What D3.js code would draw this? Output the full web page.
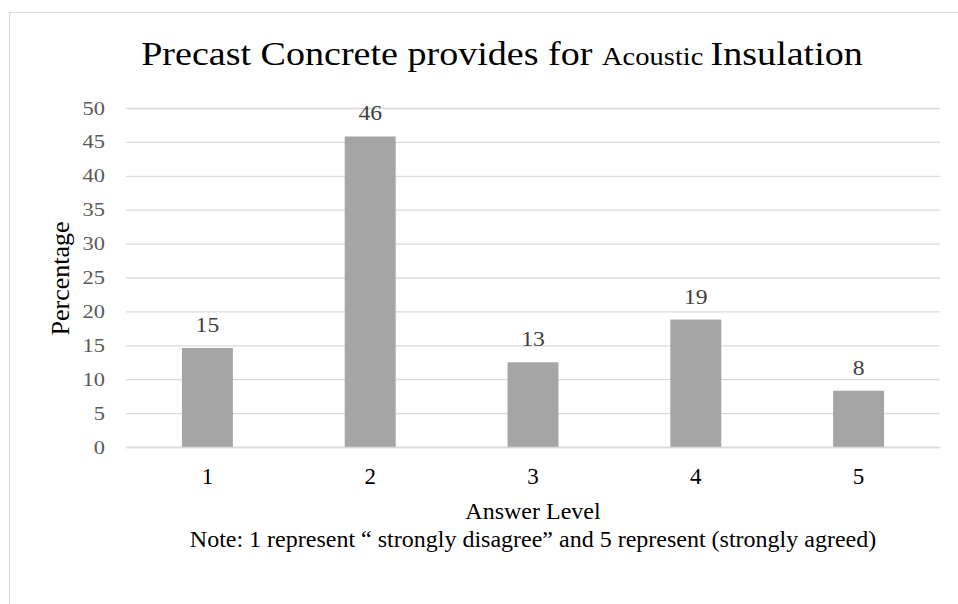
<!DOCTYPE html>
<html>
<head>
<meta charset="utf-8">
<script src="https://cdn.jsdelivr.net/npm/d3@7"></script>
<style>
  body { margin: 0; background: #ffffff; }
  svg { display: block; }
  text { font-family: "Liberation Serif", "Times New Roman", serif; }
</style>
</head>
<body>
<svg id="chart" width="958" height="604"></svg>
<script>
// chart data
var levels = ["1", "2", "3", "4", "5"];
var percentages = [14.6, 45.8, 12.5, 18.8, 8.3];
var valueLabels = ["15", "46", "13", "19", "8"];
var yTicks = [0, 5, 10, 15, 20, 25, 30, 35, 40, 45, 50];

var serif = "Liberation Serif, Times New Roman, serif";
var svg = d3.select("#chart");
var plot = {left: 126, right: 940, top: 108, bottom: 447};
var stretch = 1.18;   // the numbers in the original look a bit wide

// outer chart border (runs off the picture at right and bottom)
svg.append("rect")
    .attr("x", 9.5)
    .attr("y", 12.5)
    .attr("width", 1000)
    .attr("height", 700)
    .style("fill", "#ffffff")
    .style("stroke", "#d9d9d9")
    .style("stroke-width", "1px");

var xScale = d3.scaleBand()
    .domain(levels)
    .range([plot.left, plot.right])
    .paddingInner(0.687)
    .paddingOuter(0.3435);

var yScale = d3.scaleLinear()
    .domain([0, 50])
    .range([plot.bottom, plot.top]);

// gridlines + y tick labels
var yAxis = svg.append("g")
    .attr("transform", "translate(" + plot.left + ",0)")
    .call(d3.axisLeft(yScale)
        .tickValues(yTicks)
        .tickSize(-(plot.right - plot.left))
        .tickPadding(21))
    .attr("font-family", serif)
    .attr("font-size", 19);
yAxis.select(".domain").remove();
yAxis.selectAll("line")
    .style("stroke", "#d9d9d9")
    .style("stroke-width", "1.3px");
yAxis.selectAll("text")
    .attr("x", -21 / stretch)
    .attr("transform", "scale(" + stretch + ",1)")
    .style("fill", "#595959");

// bars
svg.selectAll("rect.bar")
    .data(percentages)
    .enter()
    .append("rect")
    .attr("class", "bar")
    .attr("x", function(d, i){ return xScale(levels[i]); })
    .attr("y", function(d){ return yScale(d); })
    .attr("width", xScale.bandwidth())
    .attr("height", function(d){ return yScale(0) - yScale(d); })
    .style("fill", "#a5a5a5");

// value labels
svg.selectAll("text.val")
    .data(percentages)
    .enter()
    .append("text")
    .attr("class", "val")
    .attr("transform", function(d, i){
        var cx = xScale(levels[i]) + xScale.bandwidth() / 2;
        return "translate(" + cx + "," + (yScale(d) - 16) + ") scale(1.1,1)";
    })
    .attr("text-anchor", "middle")
    .style("font-size", "21.5px")
    .style("fill", "#404040")
    .text(function(d, i){ return valueLabels[i]; });

// x axis baseline + category labels
var xAxis = svg.append("g")
    .attr("transform", "translate(0," + plot.bottom + ")")
    .call(d3.axisBottom(xScale).tickSize(0).tickPadding(0))
    .attr("font-family", serif)
    .attr("font-size", 23);
xAxis.select(".domain")
    .style("stroke", "#d9d9d9")
    .style("stroke-width", "1.3px");
xAxis.selectAll("text")
    .attr("y", 37)
    .attr("dy", null)
    .style("fill", "#000000");

// axis titles
svg.append("text")
    .attr("x", (plot.left + plot.right) / 2)
    .attr("y", 519)
    .attr("text-anchor", "middle")
    .style("font-size", "24px")
    .style("fill", "#000000")
    .text("Answer Level");

svg.append("text")
    .attr("x", (plot.left + plot.right) / 2)
    .attr("y", 547)
    .attr("text-anchor", "middle")
    .style("font-size", "24px")
    .style("fill", "#000000")
    .text("Note: 1 represent \u201c strongly disagree\u201d and 5 represent (strongly agreed)");

svg.append("text")
    .attr("transform", "translate(69," + ((plot.top + plot.bottom) / 2 + 1) + ") rotate(-90)")
    .attr("text-anchor", "middle")
    .style("font-size", "26px")
    .style("fill", "#000000")
    .text("Percentage");

// title, with the smaller "Acoustic"
var title = svg.append("text")
    .attr("transform", "translate(502,65) scale(1.12,1)")
    .attr("text-anchor", "middle")
    .style("font-size", "34px")
    .style("fill", "#000000");
title.append("tspan").text("Precast Concrete provides for ");
title.append("tspan").style("font-size", "25.5px").text("Acoustic ");
title.append("tspan").text("Insulation");
</script>
</body>
</html>
